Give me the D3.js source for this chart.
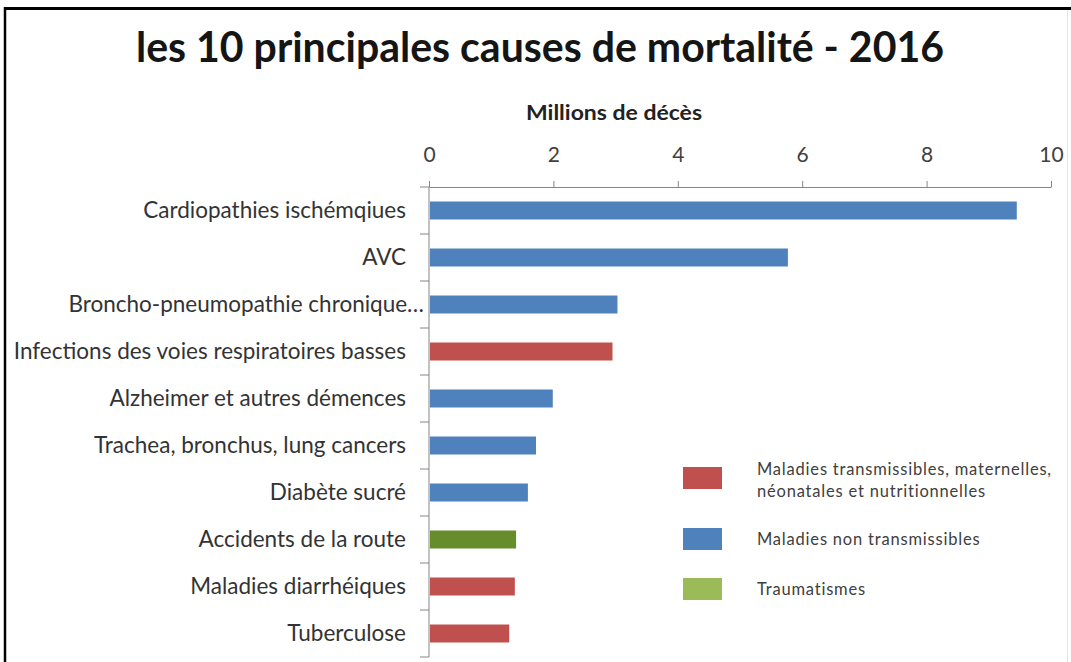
<!DOCTYPE html>
<html>
<head>
<meta charset="utf-8">
<script src="https://cdn.jsdelivr.net/npm/d3@7"></script>
<style>
  body { margin: 0; background: #fff; }
  svg { display: block; font-family: Lato, "Open Sans", sans-serif; }
</style>
</head>
<body>
<div id="chart"></div>
<script>
var categories = ["Cardiopathies ischémqiues", "AVC", "Broncho-pneumopathie chronique…",
  "Infections des voies respiratoires basses", "Alzheimer et autres démences",
  "Trachea, bronchus, lung cancers", "Diabète sucré", "Accidents de la route",
  "Maladies diarrhéiques", "Tuberculose"];
var deaths = [9.45, 5.77, 3.03, 2.95, 1.99, 1.72, 1.59, 1.40, 1.38, 1.29];
var groups = ["nt", "nt", "nt", "tr", "nt", "nt", "nt", "trauma", "tr", "tr"];
var xTicks = [0, 2, 4, 6, 8, 10];
var legendKeys = ["tr", "nt", "trauma"];
var legendLabels = [["Maladies transmissibles, maternelles,", "néonatales et nutritionnelles"],
  ["Maladies non transmissibles"], ["Traumatismes"]];

var barColor = {tr: "#C0504D", nt: "#4F81BD", trauma: "#668C2B"};
var legendColor = {tr: "#C0504D", nt: "#4F81BD", trauma: "#9BBB59"};

var W = 1071, H = 662;
var svg = d3.select("#chart").append("svg")
  .attr("width", W).attr("height", H);

svg.append("rect").attr("width", W).attr("height", H).attr("fill", "#fff");

// frame (top + left, faint right edge)
svg.append("line").attr("x1", 5).attr("x2", W).attr("y1", 8.5).attr("y2", 8.5)
  .attr("stroke", "#000").attr("stroke-width", 3);
svg.append("line").attr("x1", 1067.5).attr("x2", 1067.5).attr("y1", 10).attr("y2", H)
  .attr("stroke", "#e6e6e6").attr("stroke-width", 1);

// title
svg.append("text")
  .attr("x", 540).attr("y", 62)
  .attr("text-anchor", "middle")
  .attr("font-size", 42).attr("font-weight", "bold")
  .attr("fill", "#151515")
  .attr("textLength", 808).attr("lengthAdjust", "spacingAndGlyphs")
  .text("les 10 principales causes de mortalité - 2016");

svg.append("text")
  .attr("x", 614).attr("y", 120)
  .attr("text-anchor", "middle")
  .attr("font-size", 20).attr("font-weight", "bold")
  .attr("fill", "#222")
  .attr("textLength", 176).attr("lengthAdjust", "spacingAndGlyphs")
  .text("Millions de décès");

var x = d3.scaleLinear().domain([0, 10]).range([429, 1051]);
var y = d3.scaleBand().domain(categories).range([187, 657]);

// x axis on top
var xAxis = svg.append("g")
  .attr("transform", "translate(0,187)")
  .call(d3.axisTop(x).tickValues(xTicks).tickSize(6).tickPadding(19).tickSizeOuter(0));
xAxis.select(".domain").attr("stroke", "#868686");
xAxis.selectAll(".tick line").attr("stroke", "#868686");
xAxis.selectAll(".tick text")
  .attr("font-family", "Lato, sans-serif").attr("font-size", 21).attr("fill", "#404040");

// y axis: line + ticks between categories
var bounds = categories.map(function(c) { return y(c); }).concat([y.range()[1]]);
svg.append("line")
  .attr("x1", x(0)).attr("x2", x(0))
  .attr("y1", y.range()[0]).attr("y2", y.range()[1])
  .attr("stroke", "#868686");
svg.selectAll(".ytick")
  .data(bounds).enter()
  .append("line")
  .attr("class", "ytick")
  .attr("x1", x(0) - 9).attr("x2", x(0))
  .attr("y1", function(d) { return d; }).attr("y2", function(d) { return d; })
  .attr("stroke", "#868686");

// category labels
svg.selectAll(".ylab")
  .data(categories).enter()
  .append("text")
  .attr("class", "ylab")
  .attr("x", function(d) { return d.slice(-1) == "…" ? 424 : 406; })
  .attr("y", function(d) { return y(d) + y.bandwidth() / 2; })
  .attr("dy", "0.35em")
  .attr("text-anchor", "end")
  .attr("font-size", 22.5)
  .attr("fill", "#333")
  .text(function(d) { return d; });

// bars
var barH = 18;
svg.selectAll(".bar")
  .data(categories).enter()
  .append("rect")
  .attr("class", "bar")
  .attr("x", x(0) + 1)
  .attr("y", function(d) { return y(d) + (y.bandwidth() - barH) / 2; })
  .attr("width", function(d, i) { return x(deaths[i]) - x(0) - 1; })
  .attr("height", barH)
  .attr("fill", function(d, i) { return barColor[groups[i]]; });

// legend
var ly = 467;
legendKeys.forEach(function(k, i) {
  var lines = legendLabels[i];
  svg.append("rect")
    .attr("x", 683).attr("y", ly)
    .attr("width", 39).attr("height", 22)
    .attr("fill", legendColor[k]);
  lines.forEach(function(t, j) {
    svg.append("text")
      .attr("x", 757)
      .attr("y", lines.length > 1 ? ly + 8 + j * 22 : ly + 17)
      .attr("font-size", 16.5)
      .attr("letter-spacing", 0.8)
      .attr("fill", "#404040")
      .text(t);
  });
  ly += 39 + 11 * lines.length;
});

// left frame, covering the clipped label start
svg.append("rect").attr("x", 0).attr("y", 0).attr("width", 4).attr("height", H).attr("fill", "#fff");
svg.append("line").attr("x1", 5).attr("x2", 5).attr("y1", 7).attr("y2", H)
  .attr("stroke", "#000").attr("stroke-width", 2.5);
</script>
</body>
</html>
